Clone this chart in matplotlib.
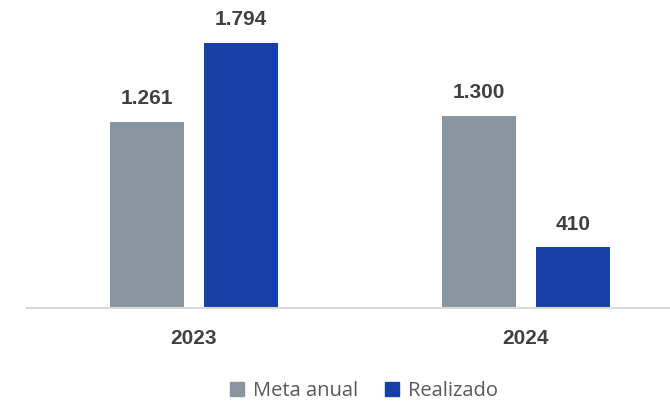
import matplotlib
matplotlib.use("Agg")
import matplotlib.pyplot as plt
from matplotlib.patches import Patch

years = ["2023", "2024"]
meta_anual = [1261, 1300]
realizado = [1794, 410]
meta_labels = ["1.261", "1.300"]
real_labels = ["1.794", "410"]

gray = "#8996a0"
blue = "#173fa8"
txt = "#404040"

fig = plt.figure(figsize=(6.7, 4.08), dpi=100)
ax = fig.add_axes([27/670, 1 - 308/408, 1 - 27/670, 308/408])

x = [0, 1]
w = 0.223
off = 0.142
b1 = ax.bar([i - off for i in x], meta_anual, w, color=gray)
b2 = ax.bar([i + off for i in x], realizado, w, color=blue)

for bars, labs in ((b1, meta_labels), (b2, real_labels)):
    for r, lab in zip(bars, labs):
        ax.annotate(lab, (r.get_x() + r.get_width()/2, r.get_height()),
                    xytext=(0, 10), textcoords="offset points",
                    ha="center", va="bottom", fontsize=15, fontweight="bold",
                    color=txt, family="Liberation Sans")

ax.set_xlim(-0.503, 1.434)
ax.set_ylim(0, 2085)
ax.set_xticks(x)
ax.set_xticklabels(years, fontsize=15, fontweight="bold", color=txt, family="Liberation Sans")
ax.tick_params(axis="x", length=0, pad=15)
ax.set_yticks([])
for s in ["top", "right", "left"]:
    ax.spines[s].set_visible(False)
ax.spines["bottom"].set_color("#d9d9d9")
ax.spines["bottom"].set_linewidth(1.5)

handles = [Patch(color=gray, label="Meta anual"), Patch(color=blue, label="Realizado")]
fig.legend(handles=handles, loc="center", bbox_to_anchor=(364/670, 1 - 391/408),
           ncol=2, frameon=False, prop={"family": "Open Sans", "size": 14.5},
           handlelength=0.7, handleheight=0.7, handletextpad=0.45, columnspacing=1.3,
           labelcolor="#595959")

fig.savefig("out.png", dpi=100)
